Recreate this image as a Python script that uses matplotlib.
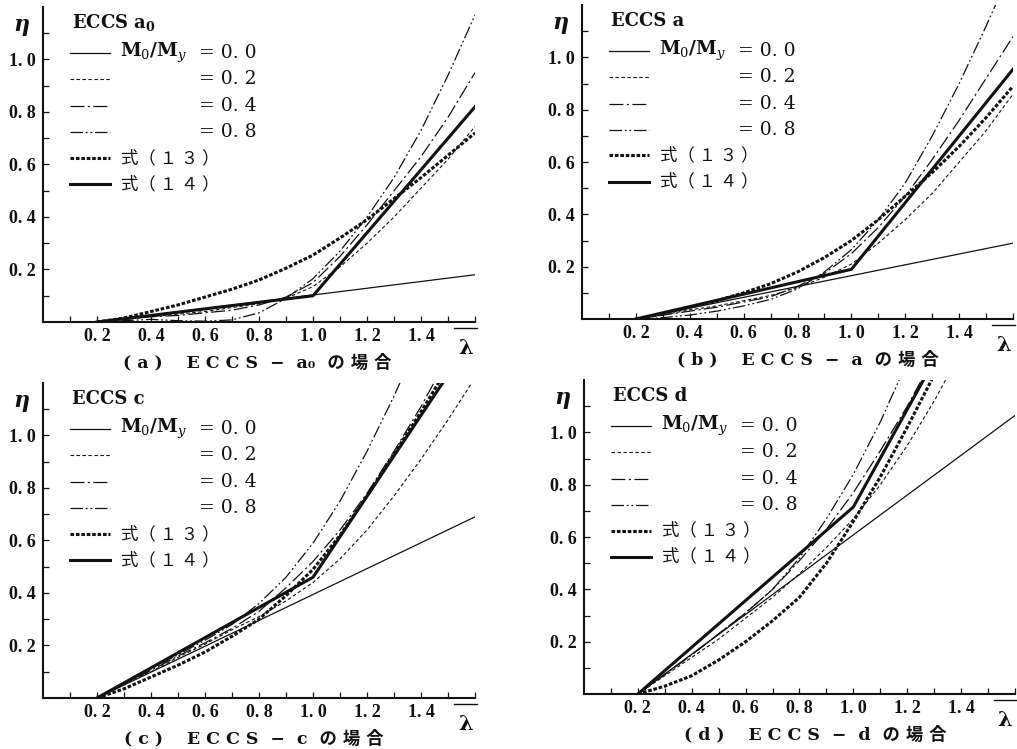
import matplotlib
matplotlib.use("Agg")
import matplotlib.pyplot as plt
from matplotlib.lines import Line2D

# common lambda grid used for the curved series (read every 0.1)
LAM = [0.2, 0.3, 0.4, 0.5, 0.6, 0.7, 0.8, 0.9, 1.0, 1.1, 1.2, 1.3, 1.4, 1.5, 1.6]

# ---- (a) ECCS a0 ----
A_M00_X = [0.2, 1.6]
A_M00_Y = [0.0, 0.18]
A_EQ14_X = [0.2, 1.0, 1.6]
A_EQ14_Y = [0.0, 0.10, 0.82]
A_EQ13 = [0, 0.015, 0.04, 0.065, 0.095, 0.125, 0.16, 0.205, 0.255, 0.32, 0.39, 0.47, 0.55, 0.635, 0.72]
A_M02 = [0, 0.01, 0.02, 0.03, 0.04, 0.055, 0.07, 0.09, 0.135, 0.21, 0.30, 0.40, 0.51, 0.62, 0.745]
A_M04 = [0, 0.01, 0.02, 0.025, 0.035, 0.045, 0.065, 0.095, 0.15, 0.25, 0.37, 0.50, 0.63, 0.78, 0.95]
A_M08 = [0, 0.005, 0.01, 0.005, 0.003, 0.008, 0.035, 0.09, 0.165, 0.27, 0.40, 0.55, 0.73, 0.94, 1.17]

# ---- (b) ECCS a ----
B_M00_X = [0.2, 1.6]
B_M00_Y = [0.0, 0.29]
B_EQ14_X = [0.2, 1.0, 1.6]
B_EQ14_Y = [0.0, 0.19, 0.955]
B_EQ13 = [0, 0.02, 0.045, 0.07, 0.10, 0.135, 0.18, 0.235, 0.30, 0.38, 0.47, 0.56, 0.66, 0.77, 0.89]
B_M02 = [0, 0.015, 0.035, 0.05, 0.07, 0.09, 0.12, 0.16, 0.21, 0.29, 0.38, 0.48, 0.60, 0.72, 0.86]
B_M04 = [0, 0.015, 0.03, 0.045, 0.065, 0.085, 0.125, 0.175, 0.25, 0.35, 0.47, 0.61, 0.76, 0.92, 1.08]
B_M08 = [0, 0.005, 0.015, 0.03, 0.05, 0.075, 0.115, 0.18, 0.265, 0.38, 0.52, 0.70, 0.90, 1.12, 1.35]

# ---- (c) ECCS c ----
C_M00_X = [0.2, 1.6]
C_M00_Y = [0.0, 0.69]
C_EQ14_X = [0.2, 1.0, 1.48]
C_EQ14_Y = [0.0, 0.46, 1.2]
C_EQ13 = [0, 0.035, 0.08, 0.125, 0.175, 0.235, 0.30, 0.39, 0.49, 0.62, 0.77, 0.93, 1.09, 1.26]
C_M02 = [0, 0.055, 0.10, 0.155, 0.205, 0.26, 0.31, 0.37, 0.44, 0.53, 0.64, 0.77, 0.91, 1.06, 1.22]
C_M04 = [0, 0.055, 0.105, 0.16, 0.21, 0.265, 0.33, 0.42, 0.52, 0.64, 0.78, 0.94, 1.11, 1.30]
C_M08 = [0, 0.055, 0.11, 0.165, 0.22, 0.28, 0.36, 0.46, 0.59, 0.75, 0.94, 1.15, 1.38]

# ---- (d) ECCS d ----
D_M00_X = [0.2, 1.6]
D_M00_Y = [0.0, 1.065]
D_EQ14_X = [0.2, 1.0, 1.26]
D_EQ14_Y = [0.0, 0.715, 1.2]
D_EQ13 = [0, 0.03, 0.07, 0.13, 0.20, 0.28, 0.37, 0.50, 0.66, 0.83, 1.02, 1.22]
D_M02 = [0, 0.07, 0.14, 0.21, 0.29, 0.37, 0.46, 0.56, 0.67, 0.80, 0.95, 1.12, 1.31]
D_M04 = [0, 0.075, 0.15, 0.23, 0.31, 0.40, 0.51, 0.63, 0.77, 0.93, 1.10, 1.29]
D_M08 = [0, 0.075, 0.15, 0.23, 0.31, 0.40, 0.52, 0.67, 0.84, 1.04, 1.27]

X_TICKS = [0.2, 0.4, 0.6, 0.8, 1.0, 1.2, 1.4]
X_LABELS = ["0. 2", "0. 4", "0. 6", "0. 8", "1. 0", "1. 2", "1. 4"]
Y_TICKS = [0.2, 0.4, 0.6, 0.8, 1.0]
Y_LABELS = ["0. 2", "0. 4", "0. 6", "0. 8", "1. 0"]
MINOR = [0.1, 0.3, 0.5, 0.7, 0.9, 1.1, 1.3, 1.5, 1.6]
Y_MINOR = [0.1, 0.3, 0.5, 0.7, 0.9, 1.1]

INK = "#111111"
JP = ["Noto Sans CJK JP", "DejaVu Sans"]
SERIF = ["DejaVu Serif", "Noto Sans CJK JP"]
TICKFONT = ["Liberation Serif", "DejaVu Serif"]

STY = {
    "m00": dict(color=INK, lw=0.9, ls="-"),
    "m02": dict(color=INK, lw=0.8, ls=(0, (2.5, 1.8))),
    "m04": dict(color=INK, lw=0.9, ls=(0, (10, 2.5, 1.5, 2.5))),
    "m08": dict(color=INK, lw=0.9, ls=(0, (9, 2, 1.3, 2, 1.3, 2))),
    "eq13": dict(color=INK, lw=2.2, ls=(0, (2.6, 1.3))),
    "eq14": dict(color=INK, lw=2.2, ls="-"),
}

plt.rcParams.update({
    "lines.scale_dashes": False,
    "mathtext.fontset": "dejavuserif",
    "font.family": SERIF,
})


def panel(ax, m00, eq14, eq13, m02, m04, m08, title, caption, cap_x):
    ax.plot(m00[0], m00[1], **STY["m00"])
    ax.plot(LAM[:len(m02)], m02, **STY["m02"])
    ax.plot(LAM[:len(m04)], m04, **STY["m04"])
    ax.plot(LAM[:len(m08)], m08, **STY["m08"])
    ax.plot(LAM[:len(eq13)], eq13, **STY["eq13"])
    ax.plot(eq14[0], eq14[1], **STY["eq14"])

    ax.set_xlim(0, 1.6)
    ax.set_ylim(0, 1.2)
    ax.set_xticks(X_TICKS)
    ax.set_xticklabels(X_LABELS, fontsize=13, fontweight="bold", family=TICKFONT)
    ax.set_yticks(Y_TICKS)
    ax.set_yticklabels(Y_LABELS, fontsize=13, fontweight="bold", family=TICKFONT)
    ax.set_xticks(MINOR, minor=True)
    ax.set_yticks(Y_MINOR, minor=True)
    ax.tick_params(which="both", direction="in", length=4, width=0.9, color=INK,
                   labelcolor=INK)
    ax.tick_params(axis="x", pad=4)
    ax.tick_params(axis="y", pad=5)
    for s in ("top", "right"):
        ax.spines[s].set_visible(False)
    for s in ("left", "bottom"):
        ax.spines[s].set_linewidth(1.5)
        ax.spines[s].set_color(INK)

    # in-plot key
    tr = ax.transAxes
    ax.text(0.067, 0.95, title, transform=tr, fontsize=13, fontweight="bold",
            va="center", ha="left", color=INK)
    rows = [0.854, 0.770, 0.686, 0.603, 0.521, 0.438]
    keys = ["m00", "m02", "m04", "m08", "eq13", "eq14"]
    for y, k in zip(rows, keys):
        ax.add_line(Line2D([0.062, 0.155], [y, y], transform=tr, **STY[k]))
    ax.text(0.178, rows[0], r"M$_0$/M$_y$", transform=tr, fontsize=13.5,
            fontweight="bold", va="center", ha="left", color=INK)
    for y, v in zip(rows[:4], ["0. 0", "0. 2", "0. 4", "0. 8"]):
        ax.text(0.362, y, "= " + v, transform=tr, fontsize=13.5, va="center",
                ha="left", color=INK)
    ax.text(0.18, rows[4], "式（ １ ３ ）", transform=tr, fontsize=12.5, family=JP,
            va="center", ha="left", color=INK)
    ax.text(0.18, rows[5], "式（ １ ４ ）", transform=tr, fontsize=12.5, family=JP,
            va="center", ha="left", color=INK)

    # axis symbols
    ax.text(-0.051, 0.943, "η", transform=tr, fontsize=16, fontweight="bold",
            fontstyle="italic", ha="center", va="center", color=INK)
    ax.text(0.977, -0.083, "λ", transform=tr, fontsize=15, fontweight="bold",
            ha="center", va="center", color=INK)
    ax.add_line(Line2D([0.952, 1.005], [-0.019, -0.019], transform=tr, color=INK,
                       lw=1.0, clip_on=False))
    ax.text(cap_x, -0.13, caption, transform=tr, fontsize=12.5, fontweight="bold",
            family=SERIF, ha="center", va="center", color=INK)


fig = plt.figure(figsize=(10.17, 7.49), dpi=100)
ax_a = fig.add_axes([0.0423, 0.5701, 0.4248, 0.4206])
ax_b = fig.add_axes([0.5723, 0.5741, 0.4238, 0.4190])
ax_c = fig.add_axes([0.0423, 0.0681, 0.4248, 0.4206])
ax_d = fig.add_axes([0.5742, 0.0734, 0.4238, 0.4190])

panel(ax_a, (A_M00_X, A_M00_Y), (A_EQ14_X, A_EQ14_Y), A_EQ13, A_M02, A_M04, A_M08,
      r"ECCS $\mathbf{a_0}$", "( a )    E C C S  −  a₀  の 場 合", 0.495)
panel(ax_b, (B_M00_X, B_M00_Y), (B_EQ14_X, B_EQ14_Y), B_EQ13, B_M02, B_M04, B_M08,
      "ECCS a", "( b )    E C C S  −  a  の 場 合", 0.525)
panel(ax_c, (C_M00_X, C_M00_Y), (C_EQ14_X, C_EQ14_Y), C_EQ13, C_M02, C_M04, C_M08,
      "ECCS c", "( c )    E C C S  −  c  の 場 合", 0.489)
panel(ax_d, (D_M00_X, D_M00_Y), (D_EQ14_X, D_EQ14_Y), D_EQ13, D_M02, D_M04, D_M08,
      "ECCS d", "( d )    E C C S  −  d  の 場 合", 0.536)

fig.savefig("out.png", dpi=100, facecolor="white")
